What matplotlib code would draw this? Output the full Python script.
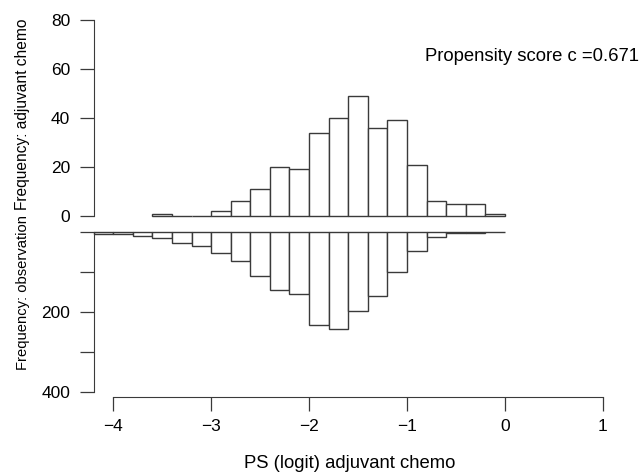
import matplotlib
matplotlib.use("Agg")
import matplotlib.pyplot as plt

plt.rcParams["font.family"] = ["Liberation Sans", "DejaVu Sans"]

# histogram bins (width 0.2 on the logit scale)
bin_width = 0.2
chemo_start = -3.6
chemo_counts = [1, 0, 0, 2, 6, 11, 20, 19, 34, 40, 49, 36, 39, 21, 6, 5, 5, 1]
obs_start = -4.2
obs_counts = [5, 5, 11, 16, 28, 35, 54, 73, 112, 145, 155, 232, 242, 197,
              161, 102, 49, 14, 4, 4, 2]

x_ticks = [-4, -3, -2, -1, 0, 1]
x_labels = ["\u22124", "\u22123", "\u22122", "\u22121", "0", "1"]
top_ticks = [0, 20, 40, 60, 80]
bottom_ticks = [0, 100, 200, 300, 400]
bottom_labels = ["", "", "200", "", "400"]

W, H = 644, 476
fig = plt.figure(figsize=(W / 100, H / 100), dpi=100)


def px_axes(left, top, right, bottom):
    return fig.add_axes([left / W, 1 - bottom / H, (right - left) / W, (bottom - top) / H])


edge = "#3a3a3a"
tick_fs = 12.5
text_fs = 13.3

ax_top = px_axes(93.7, 20, 602.7, 216)
ax_bot = px_axes(93.7, 231.7, 602.7, 396.7)

lefts_top = [chemo_start + i * bin_width for i in range(len(chemo_counts))]
lefts_bot = [obs_start + i * bin_width for i in range(len(obs_counts))]

ax_top.bar(lefts_top, chemo_counts, width=bin_width, align="edge",
           facecolor="white", edgecolor=edge, linewidth=1.0, clip_on=False)
ax_bot.bar(lefts_bot, obs_counts, width=bin_width, align="edge",
           facecolor="white", edgecolor=edge, linewidth=1.0, clip_on=False)

for ax in (ax_top, ax_bot):
    ax.set_xlim(-4.2, 1.0)
    ax.set_facecolor("none")
    for s in ("top", "right"):
        ax.spines[s].set_visible(False)
    ax.spines["left"].set_color(edge)
    ax.tick_params(axis="y", direction="out", length=10, width=0.9,
                   color=edge, labelsize=tick_fs, pad=7)

ax_top.set_ylim(0, 80)
ax_top.spines["bottom"].set_visible(False)
ax_top.spines["left"].set_bounds(0, 80)
ax_top.set_yticks(top_ticks)
ax_top.set_xticks([])

ax_bot.set_ylim(412.5, 0)
ax_bot.spines["left"].set_bounds(0, 400)
ax_bot.set_yticks(bottom_ticks)
ax_bot.set_yticklabels(bottom_labels)
ax_bot.spines["bottom"].set_bounds(-4, 1)
ax_bot.spines["bottom"].set_color(edge)
ax_bot.set_xticks(x_ticks)
ax_bot.set_xticklabels(x_labels)
ax_bot.tick_params(axis="x", direction="out", length=10, width=0.9,
                   color=edge, labelsize=tick_fs, pad=6)

fig.text(22.7 / W, 1 - 114 / H, "Frequency: adjuvant chemo", rotation=90,
         ha="center", va="center", fontsize=11.2)
fig.text(22.7 / W, 1 - 293 / H, "Frequency: observation", rotation=90,
         ha="center", va="center", fontsize=10.6)
fig.text(349.5 / W, 1 - 463 / H, "PS (logit) adjuvant chemo",
         ha="center", va="center", fontsize=text_fs)
fig.text(639 / W, 1 - 56.7 / H, "Propensity score c =0.671",
         ha="right", va="center", fontsize=text_fs)

fig.savefig("out.png", dpi=100)
